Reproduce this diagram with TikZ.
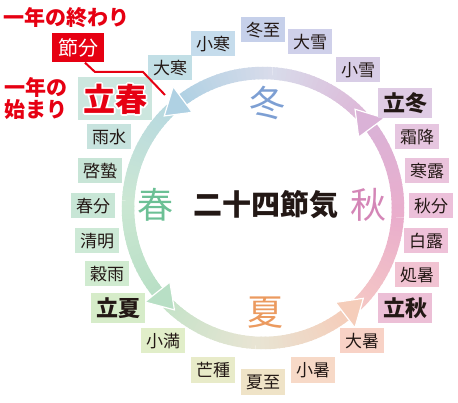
\documentclass[tikz,border=0pt]{standalone}
\usepackage{fontspec}
\newfontfamily\jp{Noto Sans CJK JP}
\usetikzlibrary{calc}

\definecolor{redmark}{HTML}{E60012}
\definecolor{ink}{HTML}{231815}
\definecolor{fuyu}{HTML}{7D9FD3}
\definecolor{haru}{HTML}{6CC095}
\definecolor{natsu}{HTML}{EB9A5F}
\definecolor{aki}{HTML}{D486B7}

\begin{document}
\begin{tikzpicture}[x=1pt,y=-1pt,
  sekki/.style={font=\jp\fontsize{17}{17}\selectfont, text=ink,
    minimum width=44pt, minimum height=25pt, inner sep=0pt},
  risshi/.style={font=\jp\bfseries\fontsize{22}{22}\selectfont, text=ink,
    minimum width=54pt, minimum height=30pt, inner sep=0pt},
  season/.style={font=\jp\fontsize{36}{36}\selectfont},
  redtext/.style={font=\jp\bfseries\fontsize{21}{22}\selectfont, text=redmark}]
\useasboundingbox (0,0) rectangle (458,403);

% ring: centre (263,208), radius 135
\foreach \s/\e/\ca/\cb in {
  43/86/DDB8D8/D8DBEA, 86/128/D8DBEA/AFD1E3,
  133/177/B8D9E0/CBE7D3, 177/220/CBE7D3/B8DFC5,
  225/267/C6E3C9/E8E4D3, 267/309/E8E4D3/F5CDBA,
  314/356/F4C7C5/EAAECC, 356/398/EAAECC/DAB2D7}{
  \definecolor{ca}{HTML}{\ca}
  \definecolor{cb}{HTML}{\cb}
  \pgfmathsetmacro\n{int((\e-\s)/2)}
  \foreach \i in {0,...,\n}{
    \pgfmathsetmacro\a{\s+\i*(\e-\s)/(\n+1)}
    \pgfmathsetmacro\b{\s+(\i+1.3)*(\e-\s)/(\n+1)}
    \pgfmathsetmacro\t{100*\i/\n}
    \draw[line width=12.5pt, color=cb!\t!ca]
      ({263+135*cos(\a)},{208-135*sin(\a)}) -- ({263+135*cos(min(\b,\e))},{208-135*sin(min(\b,\e))});
  }
}

% arrowheads
\foreach \tip/\col in {137/AFD1E3, 229/B8DFC5, 318/F5CDBA, 407/DAB2D7}{
  \definecolor{hc}{HTML}{\col}
  \filldraw[fill=hc, draw=white, line width=1.2pt]
    ({263+135*cos(\tip)},{208-135*sin(\tip)})
    -- ({263+151*cos(\tip-10.5)},{208-151*sin(\tip-10.5)})
    -- ({263+119*cos(\tip-10.5)},{208-119*sin(\tip-10.5)}) -- cycle;
}

\node[font=\jp\bfseries\fontsize{29}{29}\selectfont, text=ink] (title) at (266,205) {二十四節気};
\node[season, text=fuyu] (fuyu) at (267,103) {冬};
\node[season, text=haru] (haru) at (155,205) {春};
\node[season, text=natsu] (natsu) at (265,313) {夏};
\node[season, text=aki] (aki) at (368,205) {秋};

% winter
\node[sekki, fill={rgb,255:red,197;green,220;blue,236}] (shoukan) at (213,44) {小寒};
\node[sekki, fill={rgb,255:red,194;green,223;blue,230}] (daikan) at (170,68) {大寒};
\node[sekki, fill={rgb,255:red,198;green,208;blue,234}] (touji) at (263,30) {冬至};
\node[sekki, fill={rgb,255:red,207;green,208;blue,234}] (taisetsu) at (310,42) {大雪};
\node[sekki, fill={rgb,255:red,216;green,205;blue,230}] (shousetsu) at (358,70) {小雪};
\node[risshi, fill={rgb,255:red,223;green,203;blue,228}] (rittou) at (405,103) {立冬};
% autumn
\node[sekki, fill={rgb,255:red,230;green,198;blue,224}] (soukou) at (417,137) {霜降};
\node[sekki, fill={rgb,255:red,234;green,195;blue,220}] (kanro) at (427,171) {寒露};
\node[sekki, fill={rgb,255:red,236;green,192;blue,218}] (shuubun) at (431,206) {秋分};
\node[sekki, fill={rgb,255:red,238;green,193;blue,216}] (hakuro) at (426,241) {白露};
\node[sekki, fill={rgb,255:red,241;green,195;blue,210}] (shosho) at (417,275) {処暑};
\node[risshi, fill={rgb,255:red,236;green,191;blue,214}] (risshuu) at (405,308) {立秋};
% summer
\node[sekki, fill={rgb,255:red,248;green,210;blue,198}] (taisho) at (362,341) {大暑};
\node[sekki, fill={rgb,255:red,247;green,217;blue,199}] (shousho) at (313,370) {小暑};
\node[sekki, fill={rgb,255:red,239;green,227;blue,199}] (geshi) at (263,382) {夏至};
\node[sekki, fill={rgb,255:red,232;green,235;blue,201}] (boushu) at (213,370) {芒種};
\node[sekki, fill={rgb,255:red,225;green,238;blue,201}] (shouman) at (163,341) {小満};
\node[risshi, fill={rgb,255:red,214;green,236;blue,201}] (rikka) at (118,308) {立夏};
% spring
\node[sekki, fill={rgb,255:red,208;green,235;blue,208}] (kokuu) at (107,274) {穀雨};
\node[sekki, fill={rgb,255:red,205;green,233;blue,214}] (seimei) at (97,241) {清明};
\node[sekki, fill={rgb,255:red,200;green,230;blue,214}] (shunbun) at (93,206) {春分};
\node[sekki, fill={rgb,255:red,200;green,229;blue,215}] (keichitsu) at (100,171) {啓蟄};
\node[sekki, fill={rgb,255:red,199;green,227;blue,222}] (usui) at (109,137) {雨水};
% white rim round the red letters
\node[fill={rgb,255:red,204;green,230;blue,222}, minimum width=74pt, minimum height=43pt, inner sep=0pt,
  font=\jp\bfseries\fontsize{32}{32}\selectfont, text=redmark] (risshun) at (115,99)
  {\rlap{\special{pdf:code 1 Tr 3.5 w 1 1 1 RG 1 j}立春\special{pdf:code 0 Tr}}立春};

% start / end of the year
\node[redtext] (owari) at (67,18) {一年の終わり};
\node[redtext, align=left] (hajimari) at (36,99) {一年の\\始まり};
\node[fill=redmark, text=white, font=\jp\fontsize{20}{20}\selectfont,
  minimum width=52pt, minimum height=29pt, inner sep=0pt] (setsubun) at (78,48) {節分};
\coordinate (kugiri) at (165,95);
\draw[redmark, line width=2pt] ([xshift=7pt]setsubun.south) -- (95,72) -- (143,72) -- (kugiri);
\end{tikzpicture}
\end{document}
